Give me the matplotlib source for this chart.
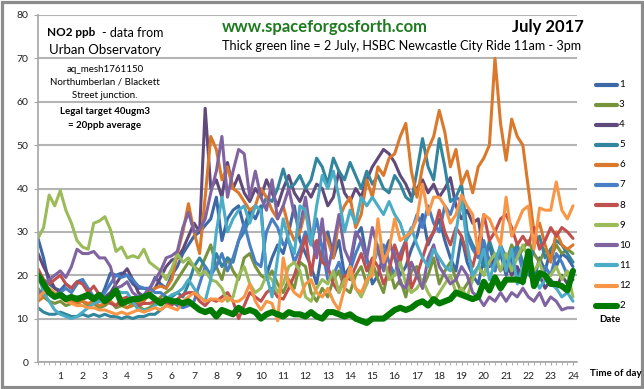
import numpy as np
import matplotlib
matplotlib.use("Agg")
import matplotlib.pyplot as plt
from matplotlib.lines import Line2D
from matplotlib.patches import Rectangle

plt.rcParams['font.family'] = ['Lato', 'DejaVu Sans']

# ---- data (NO2 ppb, 15-minute readings, 00:00 .. 24:00) ----
hours = np.arange(97) / 4.0
hour_labels = [str(h) for h in range(1, 25)]

s1 = [28.5, 24, 18, 17, 16.5, 18, 17, 18.5, 19, 16, 14.5, 14, 17, 20.5, 20, 20.5,
      20, 18, 17, 17, 16.5, 19.5, 18, 17, 20, 22, 25, 27, 29, 30, 31.5, 33,
      38, 28, 33, 35, 36, 31, 35, 33, 36, 20, 24, 27, 25, 30, 36, 28,
      25, 22, 18, 26, 30, 24, 28, 20, 22, 29, 31, 24, 18, 20, 25, 28,
      24, 20, 22, 26, 29, 34, 27, 30, 33, 28, 24, 21, 29, 23, 20, 18,
      24, 27, 22, 25, 20, 24, 21, 18, 22, 19, 24, 21, 26, 22, 25, 24, 22]
s3 = [17, 15, 14, 13.5, 14, 13, 13.5, 14.5, 14, 13, 13.5, 12.5, 13, 14, 12.5, 13,
      12.5, 13.5, 13, 12, 12.5, 13.5, 15, 16, 17, 19, 21, 23, 22, 21, 24, 27,
      22, 19, 24, 21, 19, 24, 25, 22, 20, 19, 21, 18, 16, 19, 17, 23,
      22, 16, 14, 17, 15, 19, 21, 17, 16, 20, 22, 18, 23, 19, 16, 22,
      17, 19, 15, 21, 22, 17, 20, 24, 18, 21, 23, 19, 16, 18, 20, 22,
      20, 24, 21, 26, 23, 27, 24, 26, 28, 25, 23, 26, 24, 27, 25, 26, 25]
s4 = [25, 22, 19.5, 17, 16, 15, 14.5, 15, 14.5, 15, 14, 14.5, 15, 16, 18, 20,
      21.5, 19, 16, 15, 16, 17, 19.5, 22, 23.5, 24, 26, 29, 32, 30, 58.5, 40,
      42, 38, 46, 40, 43, 39, 37, 40, 38, 42, 39, 36, 40, 43, 39, 37,
      40, 38, 41, 40, 36, 38, 44, 39, 37, 40, 38, 42, 45, 47, 49, 48,
      46, 43, 41, 38, 40, 42, 39, 41, 38, 40, 42.5, 36, 33, 35, 32, 33,
      25, 22, 24, 21, 23, 20, 22, 19, 21, 18, 20, 17, 19, 17, 20, 18, 19]
s5 = [12.5, 11.5, 11, 11, 11.5, 11, 10.5, 10.5, 11, 10.5, 11, 10.5, 11, 10.5, 10.5, 10,
      10.5, 10, 10.5, 10.5, 11, 11, 12, 13, 15, 16, 15, 18, 22, 24, 22, 20,
      25, 22, 24, 23, 28, 30, 33, 36, 35, 38, 37, 40, 44.5, 40, 41, 43,
      40, 42, 47, 45, 41, 47, 44, 42, 46, 43, 40, 44, 41, 43, 40, 39,
      43, 41, 38, 37, 44, 51.5, 45, 42, 51.5, 45, 37, 38, 41, 30, 27, 25,
      22, 28, 24, 26, 22, 25, 27, 23, 20, 27, 29, 24, 26, 28, 27, 25, 23]
s6 = [14, 15, 16, 15.5, 15, 14.5, 14, 13.5, 14, 13.5, 14, 13, 13.5, 14, 13, 13.5,
      12.5, 13, 13.5, 14, 16, 17, 17.5, 17, 19, 25, 30, 36.5, 30, 25, 38, 52,
      49, 42, 45, 40, 39, 37, 35, 36, 40, 38, 35, 33, 36, 31, 28, 30,
      35, 29, 26, 31, 28, 24, 33, 36, 38, 31, 34, 42, 38, 45, 43, 47,
      48, 52, 55, 44, 38, 45, 49, 52, 58, 53, 45, 49, 41, 44, 39, 45,
      47, 50, 70, 55, 46.5, 56, 52, 50, 40, 30, 32, 27, 23, 30, 27, 26, 27]
s7 = [15, 17, 16, 15.5, 16, 17, 16, 18, 19, 17, 15, 14.5, 16, 18, 20, 19.5,
      20, 19, 17.5, 17, 17, 16, 16, 15, 14, 13, 12.5, 13, 14, 18, 22, 20,
      22, 25, 21, 24, 28, 32, 27, 23, 22, 30, 33, 31, 27, 28, 23, 26,
      30, 27, 33, 26, 19, 20, 23, 19, 21, 25, 28, 23, 22, 26, 27, 23,
      20, 25, 28, 30, 34, 31, 36, 32, 30, 36, 34, 38, 37, 29, 26, 24,
      28, 23, 21, 27, 24, 22, 26, 21, 23, 20, 19, 22, 20, 25, 23, 20, 21]
s8 = [21.5, 19, 18, 19, 20, 18, 17, 18.5, 18, 16, 17.5, 15.5, 14.5, 13.5, 13, 14.5,
      15, 14, 13, 13.5, 13.5, 14, 14.5, 13.5, 13, 14.5, 15.5, 16, 16, 14, 13, 14.5,
      14, 15, 16, 14, 10, 13, 16, 15, 14, 16, 17, 15, 14.5, 17, 20, 24,
      29, 20, 28, 23, 22, 18, 16, 20, 19, 22, 25, 21, 24, 22, 18, 21,
      27, 23, 28, 17, 20, 24, 28, 30, 35, 30, 27, 31, 29, 25, 22, 27,
      34, 28, 30, 33, 34, 31, 27, 29, 27, 31, 26, 28, 31, 29, 31, 30, 28.5]
s9 = [28.5, 31, 38.5, 36, 39.5, 35, 32, 28, 26.5, 26, 32, 32.5, 33.5, 30.5, 25.5, 26.5,
      24, 24.5, 24, 26, 23, 22, 21, 19, 21.5, 25, 23, 24, 22, 20, 21, 19,
      18.5, 17, 14, 15, 20, 22, 18, 16, 17, 20, 19, 16, 18, 22, 23, 21,
      15, 14, 17, 19, 18, 21, 16, 19, 20, 17, 15, 18, 22, 27, 24, 19,
      20, 23, 18, 16, 17, 19, 16, 14, 16, 18, 20, 16, 17, 15, 19, 22,
      20, 23, 25, 21, 25, 21, 24, 27, 24, 21, 23, 19, 20, 22, 19, 21, 15]
s10 = [15, 17, 19, 20, 21, 19.5, 22, 26, 25, 25, 25.5, 24, 24, 22, 17, 17.5,
       18.5, 16, 15, 15.5, 17, 19, 21, 24, 24.5, 25.5, 31, 34.5, 30, 30.5, 33, 39,
       44, 52, 38, 44, 49, 48, 38, 44, 38, 35, 42, 33, 36, 40, 34, 31,
       38, 29, 24, 33, 21, 27, 34, 26, 23, 30, 28, 24, 31, 26, 21, 27,
       25, 18, 17, 23, 20, 17, 24, 27, 22, 20, 18, 19, 22, 20, 16, 15,
       13, 15, 14, 16, 14, 16, 15, 17, 15, 14, 16, 13, 15, 14, 12, 12.5, 12.5]
s11 = [20.5, 16, 14, 12, 11, 10.5, 10, 10.5, 11.5, 12.5, 13.5, 14, 14, 15, 16.5, 16,
       16, 14, 12, 12, 12, 13, 14, 14.5, 15.5, 16, 17, 19, 17, 15, 14, 19,
       30, 38, 30, 33, 35, 36, 32, 36, 35, 20, 15, 24, 33, 28, 25, 36,
       35, 27, 36, 43, 40, 44, 38, 30, 35, 32, 38, 36, 38, 36, 34, 37,
       34, 32, 28, 31, 27, 24, 22, 26, 24, 22, 21, 30, 38, 27, 20, 22,
       26, 19, 23, 27, 21, 26, 18, 22, 24, 20, 17, 19, 18, 17, 15, 16, 14]
s12 = [15, 16, 17, 16, 15, 14, 13.5, 13, 13, 12.5, 12.5, 12, 12, 11.5, 11, 11.5,
       11, 11.5, 12, 11.5, 12, 12.5, 12, 13, 12.5, 12, 14, 15, 16, 15, 14, 14.5,
       14.5, 14, 15, 14, 14, 15, 18, 14, 12, 14, 13.5, 9.5, 24, 18, 16, 15,
       18, 19, 16, 15, 17, 14, 12, 17, 22, 17, 16, 19, 20, 33, 23, 26,
       33, 28, 29, 30, 33, 41, 34, 38, 38, 36, 32, 34, 38.5, 36, 34, 25,
       34, 33, 30, 27, 38, 29, 32, 35, 36, 26, 35.5, 35, 35, 41.5, 35, 33, 36]
s2 = [20, 18, 16, 15, 15.5, 14.5, 15, 14.5, 15, 15.5, 14.5, 15.5, 14, 15, 16.5, 13.5,
      14, 14.5, 14.5, 15, 15.5, 14.5, 13.5, 14.5, 14, 14, 13.5, 14, 13, 12, 11.5, 12,
      10.5, 12, 11.5, 11, 12.5, 11.5, 12, 11.5, 10, 11, 11.5, 11, 10.5, 11.5, 11, 11,
      10.5, 11.5, 10.5, 10, 11.5, 11.5, 11, 10.5, 11, 10, 9.5, 9, 10, 10, 10, 11,
      12, 12.5, 12, 12.5, 13.5, 14, 13, 14.5, 13.5, 14, 14.5, 16, 15.5, 15, 14.5, 15,
      18.5, 16.5, 19.5, 17, 19, 19, 19, 18.5, 25.5, 17.5, 20.5, 20, 18, 18, 17.5, 16.5, 21]

dates = ['1', '3', '4', '5', '6', '7', '8', '9', '10', '11', '12', '2']
series = [s1, s3, s4, s5, s6, s7, s8, s9, s10, s11, s12, s2]
colors = ['#3C68A6', '#77933C', '#604A7B', '#31859C', '#DA782C', '#4A7EC4',
          '#C0504D', '#9BBB59', '#8064A2', '#4BACC6', '#F79646', '#007A00']
widths = [2.2] * 11 + [4.4]

W, H = 644, 389
fig = plt.figure(figsize=(W / 100, H / 100), dpi=100)
fig.patch.set_facecolor('white')

def fx(px):
    return px / W

def fy(py):
    return 1 - py / H

ax = fig.add_axes([fx(38), fy(362), fx(577) - fx(38), fy(15) - fy(362)])
for vals, c, lw in zip(series, colors, widths):
    ax.plot(hours, vals, color=c, lw=lw, solid_joinstyle='round', solid_capstyle='round')

ax.set_xlim(0, 24.18)
ax.set_ylim(0, 80)
ax.set_yticks(range(0, 81, 10))
ax.grid(axis='y', color='#B4B4B4', lw=1.5)
ax.set_axisbelow(True)
ax.set_xticks(range(1, 25))
ax.set_xticklabels(hour_labels)
ax.set_xticks(hours, minor=True)
for s in ['top', 'right']:
    ax.spines[s].set_visible(False)
for s in ['left', 'bottom']:
    ax.spines[s].set_color('#A6A6A6')
    ax.spines[s].set_linewidth(1.2)
ax.tick_params(axis='x', which='both', length=2.5, color='#A6A6A6', direction='out',
               labelsize=7.5, pad=5, labelcolor='#222222')
ax.tick_params(axis='y', length=3, color='#A6A6A6', labelsize=7.5, pad=4, labelcolor='#222222')

# ---- texts ----
fig.text(fx(47), fy(33), 'NO2 ppb', fontsize=8.5, fontweight='bold', ha='left', va='center')
fig.text(fx(164), fy(33), '- data from', fontsize=9, ha='right', va='center')
fig.text(fx(105), fy(50), 'Urban Observatory', fontsize=9.5, ha='center', va='center')
fig.text(fx(105), fy(69), 'aq_mesh1761150', fontsize=7, ha='center', va='center')
fig.text(fx(105), fy(82), 'Northumberlan / Blackett', fontsize=7, ha='center', va='center')
fig.text(fx(105), fy(95), 'Street junction.', fontsize=7, ha='center', va='center')
fig.text(fx(105), fy(112), 'Legal target 40ugm3', fontsize=7, fontweight='bold', ha='center', va='center')
fig.text(fx(105), fy(126), '= 20ppb average', fontsize=7, fontweight='bold', ha='center', va='center')
fig.text(fx(325), fy(27), 'www.spaceforgosforth.com', fontsize=12, fontweight='bold',
         color='#1F7A1F', ha='center', va='center')
fig.text(fx(584), fy(27), 'July 2017', fontsize=12, fontweight='bold', ha='right', va='center')
fig.text(fx(581), fy(46), 'Thick green line = 2 July, HSBC Newcastle City Ride 11am - 3pm',
         fontsize=9.1, ha='right', va='center')
fig.text(fx(616), fy(374), 'Time of day', fontsize=7, fontweight='bold', ha='center', va='center')
fig.text(fx(610), fy(320), 'Date', fontsize=7, fontweight='bold', ha='center', va='center')

# ---- legend (manual, Excel-style on the right) ----
for k, (lab, c, lw) in enumerate(zip(dates, colors, widths)):
    yy = fy(84.5 + 20.1 * k)
    fig.add_artist(Line2D([fx(596), fx(617)], [yy, yy], color=c, lw=max(lw, 3.0),
                          solid_capstyle='round'))
    fig.text(fx(619), yy, lab, fontsize=7, ha='left', va='center')

# ---- outer frame ----
fig.add_artist(Rectangle((fx(1.5), fy(387)), fx(640.5), (387 - 1.5) / H,
                         transform=fig.transFigure, fill=False, ec='#8C8C8C', lw=2.3))

fig.savefig('out.png', dpi=100, facecolor='white')
